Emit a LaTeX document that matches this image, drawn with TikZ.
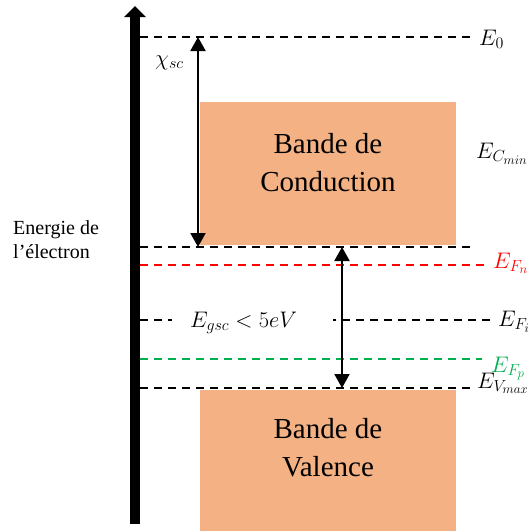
\RequirePackage{fix-cm}
\documentclass[tikz,border=0pt]{standalone}
\usepackage{fontspec}
\setmainfont{Liberation Serif}
\usetikzlibrary{arrows.meta}
\DeclareMathSizes{22.5}{22.5}{16}{13}
\definecolor{bandorange}{HTML}{F4B183}
\definecolor{fermired}{HTML}{FF0000}
\definecolor{fermigreen}{HTML}{00B050}

\begin{document}
\begin{tikzpicture}[
  x=1pt, y=-1pt,
  band/.style={fill=bandorange, draw=none, minimum width=256pt, inner sep=0pt},
  bandtext/.style={align=center, font=\fontsize{29}{38}\selectfont, inner sep=0pt},
  level/.style={line width=2pt, dash pattern=on 8pt off 6pt},
  lab/.style={anchor=base west, inner sep=0pt, font=\fontsize{22.5}{26}\selectfont},
  arrow/.style={{Triangle[width=15pt,length=14pt]}-{Triangle[width=15pt,length=14pt]}, line width=2pt},
  axis/.style={-{Triangle[width=21pt,length=11pt]}, line width=10pt}
]
\useasboundingbox (0,0) rectangle (531,531);

% Bands
\node[band, minimum height=143pt] (cond) at (328,173.5) {};
\node[band, minimum height=141pt] (val) at (328,460.5) {};
\node[bandtext, yshift=11pt] (condtxt) at (cond.center) {Bande de\\Conduction};
\node[bandtext, yshift=13pt] (valtxt) at (val.center) {Bande de\\Valence};

% Energy axis
\coordinate (axbot) at (135,524);
\coordinate (axtop) at (135,6);
\draw[axis] (axbot) -- (axtop);
\node[anchor=west, align=left, inner sep=0pt, font=\fontsize{20}{24}\selectfont] (axlab) at (13,240) {Energie de\\l’électron};

% Levels
\coordinate (e0l) at (140,37);   \coordinate (e0r) at (470,37);
\coordinate (ecl) at (140,247);  \coordinate (ecr) at (470,247);
\coordinate (fnl) at (140,265);  \coordinate (fnr) at (485,265);
\coordinate (fil) at (140,320);  \coordinate (fir) at (490,320);
\coordinate (fpl) at (140,359);  \coordinate (fpr) at (482,359);
\coordinate (evl) at (140,388);  \coordinate (evr) at (470,388);

\draw[level] (e0l) -- (e0r);
\draw[level] (ecl) -- (ecr);
\draw[level, fermired] (fnl) -- (fnr);
\draw[level] (fil) -- ++(32,0);
\draw[level] (fir) -- ++(-157,0);
\draw[level, fermigreen] (fpl) -- (fpr);
\draw[level] (evl) -- (evr);

% Level labels
\node[lab] (e0) at (479,45) {$E_0$};
\node[lab] (ec) at (476,158) {$E_{C_{min}}$};
\node[lab, fermired] (efn) at (493,268) {$E_{F_n}$};
\node[lab] (efi) at (498,326) {$E_{F_i}$};
\node[lab, fermigreen] (efp) at (491,372) {$E_{F_p}$};
\node[lab] (ev) at (477,388) {$E_{V_{max}}$};

% Affinity and gap
\coordinate (chitop) at (198,37);
\coordinate (chibot) at (198,247);
\draw[arrow] (chitop) -- (chibot);
\node[lab] (chi) at (155,65) {$\chi_{sc}$};

\coordinate (gaptop) at (342,247);
\coordinate (gapbot) at (342,388);
\draw[arrow] (gaptop) -- (gapbot);
\node[lab] (egap) at (190,327) {$E_{gsc} < 5eV$};

\end{tikzpicture}
\end{document}
